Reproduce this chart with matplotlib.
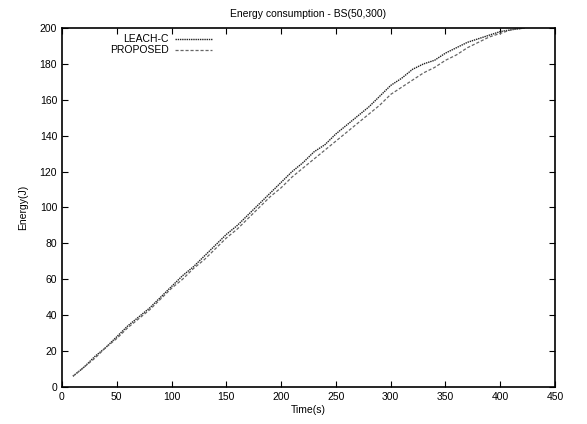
import matplotlib
matplotlib.use("Agg")
import matplotlib.pyplot as plt

# values
time_s = [10, 20, 30, 40, 50, 60, 70, 80, 90, 100, 110, 120, 130, 140, 150, 160, 170, 180, 190, 200,
          210, 220, 230, 240, 250, 260, 270, 280, 290, 300, 310, 320, 330, 340, 350, 360, 370, 380,
          390, 400, 410, 422]
leach_c = [6, 11, 17, 22, 28, 34, 39, 44, 50, 56, 62, 67, 73, 79, 85, 90, 96, 102, 108, 114,
           120, 125, 131, 135, 141, 146, 151, 156, 162, 168, 172, 177, 180, 182, 186, 189, 192, 194,
           196, 198, 199, 200]
proposed = [6, 11, 16, 22, 27, 33, 38, 43, 49, 55, 60, 66, 71, 77, 83, 88, 94, 100, 106, 111,
            117, 122, 127, 132, 137, 142, 147, 152, 157, 163, 167, 171, 175, 178, 182, 185, 189, 192,
            195, 197, 199, 200]

plt.rcParams['font.family'] = ['Liberation Sans', 'DejaVu Sans']

fig = plt.figure(figsize=(5.87, 4.24), dpi=100)
ax = fig.add_axes([0.1056, 0.0873, 0.84, 0.8467])

ax.plot(time_s, leach_c, color="#222222", lw=1.0, ls=(0, (1, 0.6)), label="LEACH-C")
ax.plot(time_s, proposed, color="#666666", lw=0.9, ls=(0, (2.5, 1.5)), label="PROPOSED")

ax.set_xlim(0, 450)
ax.set_ylim(0, 200)
ax.set_xticks(range(0, 451, 50))
ax.set_yticks(range(0, 201, 20))
ax.tick_params(direction="in", top=True, right=True, labelsize=7.5, length=4, width=0.8)
for s in ax.spines.values():
    s.set_linewidth(1.2)

ax.set_title("Energy consumption - BS(50,300)", fontsize=7.5, pad=8)
ax.set_xlabel("Time(s)", fontsize=7.5, labelpad=2)
ax.set_ylabel("Energy(J)", fontsize=7.5, labelpad=8)

ax.legend(loc="upper left", bbox_to_anchor=(0.085, 1.0), frameon=False, markerfirst=False,
          fontsize=7.5, handlelength=3.5, handletextpad=0.6, labelspacing=0.1, borderaxespad=0.2)

fig.savefig("out.png", dpi=100)
